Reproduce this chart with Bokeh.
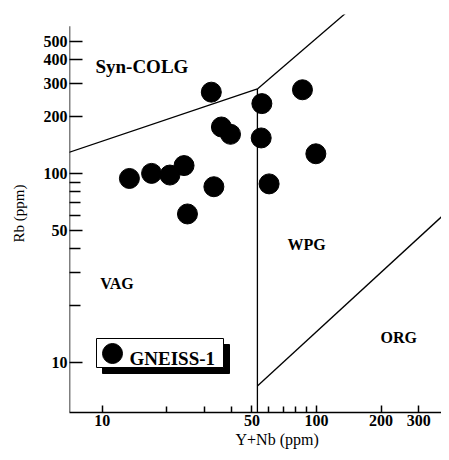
from bokeh.plotting import figure
from bokeh.models import Range1d, FixedTicker, Label, BoxAnnotation, Arrow, BasicTickFormatter, Title
from bokeh.core.properties import value
from bokeh.embed import file_html
from bokeh.resources import INLINE

# ---- data ----
sample_name = "GNEISS-1"
sample_yn = [13.4, 17.0, 20.7, 24.1, 25.0, 32.3, 33.2, 36.0, 39.7, 55.6, 55.2, 60.1, 86.0, 99.3]
sample_rb = [94, 100, 98, 110, 61, 269, 85, 176, 161, 234, 154, 88, 277, 127]

# discrimination boundaries (Y+Nb, Rb)
colg_vag_x = [2, 53]
colg_vag_y = [80, 280]
colg_wpg_x = [53, 400]
colg_wpg_y = [280, 2000]
vag_wpg_x = [53, 53]
vag_wpg_y = [280, 1]
wpg_org_x = [53, 2000]
wpg_org_y = [7.5, 330]

big_field = ["Syn-COLG"]
big_field_x = [9.3]
big_field_y = [368]
field_names = ["VAG", "WPG", "ORG"]
field_x = [9.8, 73.2, 199]
field_y = [26.2, 42.1, 13.6]

x_ticks = [10, 50, 100, 200, 300]
x_minor = [20, 30, 40, 60, 70, 80, 90]
y_ticks = [10, 50, 100, 200, 300, 400, 500]
y_minor = [20, 30, 40, 60, 70, 80, 90]

X_START, X_END = 7.04, 383.0
Y_START, Y_END = 5.43, 693.0
Y_SPINE_TOP = 600

SERIF = "Liberation Serif"

p = figure(width=441, height=452, x_axis_type="log", y_axis_type="log",
           x_range=Range1d(X_START, X_END), y_range=Range1d(Y_START, Y_END),
           output_backend="svg", toolbar_location=None,
           min_border_left=69, min_border_right=0, min_border_top=14, min_border_bottom=40)
p.outline_line_color = None
p.grid.visible = False
p.background_fill_color = "white"
p.border_fill_color = "white"

# x axis
xa = p.xaxis[0]
xa.ticker = FixedTicker(ticks=x_ticks, minor_ticks=x_minor)
xa.formatter = BasicTickFormatter()
xa.major_label_text_font = SERIF
xa.major_label_text_font_style = "bold"
xa.major_label_text_font_size = "16px"
xa.major_label_text_color = "black"
xa.major_label_standoff = 2
xa.major_tick_in = 7
xa.major_tick_out = 0
xa.minor_tick_in = 6
xa.minor_tick_out = 0
xa.axis_line_width = 1.5
xa.major_tick_line_width = 1.5
xa.minor_tick_line_width = 1.5
xa.axis_line_color = "black"
xa.major_tick_line_color = "black"
xa.minor_tick_line_color = "black"

# x axis title, shifted to the right as in the original
p.add_layout(Title(text="Y+Nb (ppm)", align="left", offset=166, standoff=0,
                   text_font=SERIF, text_font_style="normal", text_font_size="16px",
                   text_color="black"), "below")

# y axis
ya = p.yaxis[0]
ya.ticker = FixedTicker(ticks=y_ticks, minor_ticks=y_minor)
ya.formatter = BasicTickFormatter()
ya.axis_label = "Rb (ppm)"
ya.axis_label_text_font = SERIF
ya.axis_label_text_font_style = "normal"
ya.axis_label_text_font_size = "15px"
ya.axis_label_text_color = "black"
ya.axis_label_standoff = 14
ya.major_label_text_font = SERIF
ya.major_label_text_font_style = "bold"
ya.major_label_text_font_size = "16px"
ya.major_label_text_color = "black"
ya.major_label_standoff = 2
ya.major_tick_in = 13
ya.major_tick_out = 0
ya.minor_tick_in = 11
ya.minor_tick_out = 0
ya.major_tick_line_width = 1.5
ya.minor_tick_line_width = 1.5
ya.major_tick_line_color = "black"
ya.minor_tick_line_color = "black"
ya.axis_line_color = None

# y spine, shorter than the frame
p.add_layout(Arrow(x_start=X_START, y_start=Y_START, x_end=X_START, y_end=Y_SPINE_TOP,
                   start=None, end=None, line_color="black", line_width=1.5))

# boundaries
for bx, by in [(colg_vag_x, colg_vag_y), (colg_wpg_x, colg_wpg_y),
               (vag_wpg_x, vag_wpg_y), (wpg_org_x, wpg_org_y)]:
    p.line(bx, by, line_color="black", line_width=1.3)

# samples
p.scatter(sample_yn, sample_rb, marker="circle", size=20,
          fill_color="black", line_color="black")

# field names
p.text(big_field_x, big_field_y, text=big_field, text_font=value(SERIF),
       text_font_style="bold", text_font_size="19px", text_color="black",
       text_align="left", text_baseline="alphabetic")
p.text(field_x, field_y, text=field_names, text_font=value(SERIF),
       text_font_style="bold", text_font_size="16px", text_color="black",
       text_align="left", text_baseline="alphabetic")

# legend box with shadow (screen units relative to frame)
LEG_DY = -7  # frame bottom sits higher than in the original
p.add_layout(BoxAnnotation(left=33, right=160, top=75 + LEG_DY, bottom=46 + LEG_DY,
                           left_units="screen", right_units="screen",
                           top_units="screen", bottom_units="screen",
                           fill_color="black", fill_alpha=1.0,
                           line_color="black", line_alpha=1.0, line_dash="solid"))
p.add_layout(BoxAnnotation(left=27, right=154, top=81 + LEG_DY, bottom=52 + LEG_DY,
                           left_units="screen", right_units="screen",
                           top_units="screen", bottom_units="screen",
                           fill_color="white", fill_alpha=1.0,
                           line_color="black", line_alpha=1.0, line_width=1,
                           line_dash="solid"))
p.add_layout(BoxAnnotation(left=33, right=53, top=76 + LEG_DY, bottom=56 + LEG_DY,
                           left_units="screen", right_units="screen",
                           top_units="screen", bottom_units="screen",
                           fill_color="black", fill_alpha=1.0,
                           line_color="black", line_alpha=1.0, line_dash="solid",
                           border_radius=10))
p.add_layout(Label(x=60, y=61 + LEG_DY, x_units="screen", y_units="screen", text=sample_name,
                   text_font=SERIF, text_font_style="bold", text_font_size="19px",
                   text_color="black", text_align="left", text_baseline="alphabetic"))

open("out.html", "w").write(file_html(p, INLINE))
